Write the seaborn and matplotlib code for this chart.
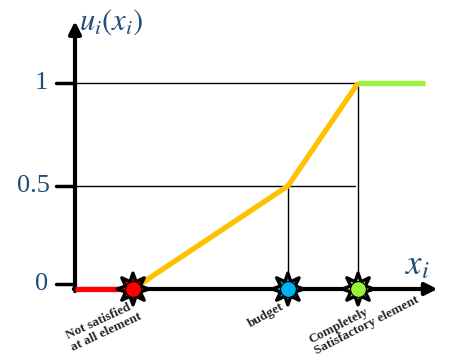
import matplotlib
matplotlib.use("Agg")
import matplotlib.pyplot as plt
import seaborn as sns

# -----------------------------
# Data (x in arbitrary units, u in [0, 1])
# -----------------------------
seg_x = [[0.0, 1.0], [1.0, 3.67, 4.88], [4.88, 6.03]]
seg_u = [[0.0, 0.0], [0.0, 0.5, 1.0], [1.0, 1.0]]
seg_colors = ["#FF0000", "#FFC000", "#99F53A"]

star_x = [1.0, 3.67, 4.88]
star_colors = ["#FF0000", "#00B0F0", "#99F53A"]

tick_vals = [0, 0.5, 1]
tick_labels = ["0", "0.5", "1"]

point_labels = ["Not satisfied\nat all element", "budget", "Completely\nSatisfactory element"]

BLUE = "#1F4E79"

# -----------------------------
# Figure setup
# -----------------------------
sns.set_style("white")
plt.rcParams["font.family"] = ["Liberation Serif", "DejaVu Serif"]
plt.rcParams["mathtext.fontset"] = "stix"

fig = plt.figure(figsize=(4.53, 3.62), dpi=100)
ax = fig.add_axes([0, 0, 1, 1])
ax.set_xlim(-75 / 58, (453 - 75) / 58)
ax.set_ylim(-(362 - 289) / 206, 289 / 206)
ax.axis("off")


def px(x, y):
    # pixel position -> figure fraction
    return x / 453, 1 - y / 362


# axes with arrows
ax.annotate("", xy=(6.25, 0), xytext=(-0.02, 0),
            arrowprops=dict(arrowstyle="-|>", lw=3, color="black",
                            mutation_scale=18, shrinkA=0, shrinkB=0), zorder=2)
ax.annotate("", xy=(0, 1.30), xytext=(0, -0.01),
            arrowprops=dict(arrowstyle="-|>", lw=3, color="black",
                            mutation_scale=18, shrinkA=0, shrinkB=0), zorder=2)

# ticks and guide lines
for v, lab in zip(tick_vals, tick_labels):
    ty = v if v > 0 else 0.024
    ax.plot([-0.33, 0], [ty, ty], color="black", lw=2.5, zorder=2)
    ax.text(-0.58 if lab != "0.5" else -0.72, ty, lab, color=BLUE, fontsize=19,
            ha="center", va="center")

ax.plot([0, star_x[2]], [1, 1], color="black", lw=1.0, zorder=1)
ax.plot([0, 4.83], [0.5, 0.5], color="black", lw=1.0, zorder=1)
ax.plot([star_x[1], star_x[1]], [0.5, 0], color="black", lw=1.0, zorder=1)
ax.plot([star_x[2], star_x[2]], [1, 0], color="black", lw=1.0, zorder=1)

# utility function segments
for xs, us, c in zip(seg_x, seg_u, seg_colors):
    sns.lineplot(x=xs, y=us, color=c, linewidth=3.8, ax=ax, zorder=3,
                 solid_capstyle="butt")

# star markers
sns.scatterplot(x=star_x, y=[0] * len(star_x), marker=(8, 1, 0), s=520,
                color=star_colors, edgecolor="black", linewidth=2.4, ax=ax, zorder=4)
for sx, c in zip(star_x, star_colors):
    ax.scatter([sx], [0], s=130, color=c, edgecolors="black", linewidths=0.8, zorder=5)

# axis labels
fig.text(*px(111, 22), r"$u_i(x_i)$", color=BLUE, fontsize=22, ha="center", va="center")
fig.text(*px(417, 266), r"$x_i$", color=BLUE, fontsize=25, ha="center", va="center")

# point annotations
text_pos = [(104, 326), (266, 315), (364, 320)]
text_rot = [25, 29, 27]
for lab, (tx, ty), rot in zip(point_labels, text_pos, text_rot):
    fig.text(*px(tx, ty), lab, fontsize=9.5, fontweight="bold", rotation=rot,
             ha="center", va="center", multialignment="left", linespacing=1.1)

fig.savefig("out.png", dpi=100)
